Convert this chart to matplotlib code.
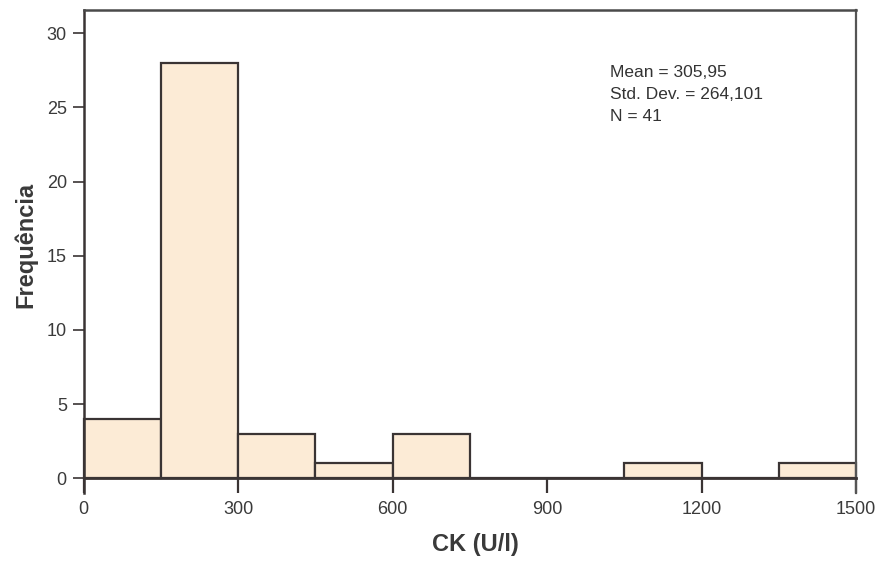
import matplotlib
matplotlib.use("Agg")
import matplotlib.pyplot as plt
import numpy as np

bin_edges = [0, 150, 300, 450, 600, 750, 900, 1050, 1200, 1350, 1500]
counts = [4, 28, 3, 1, 3, 0, 0, 1, 0, 1]
x_ticks = [0, 300, 600, 900, 1200, 1500]
y_ticks = [0, 5, 10, 15, 20, 25, 30]
stats_text = "Mean = 305,95\nStd. Dev. = 264,101\nN = 41"

plt.rcParams['font.family'] = ['Liberation Sans', 'DejaVu Sans']

fig = plt.figure(figsize=(8.82, 5.65), dpi=100)
W, H = 882, 565
left, right, top, bottom = 83.5, 856, 10, 478.3
ax = fig.add_axes([left / W, 1 - bottom / H, (right - left) / W, (bottom - top) / H])

edges = np.array(bin_edges)
ax.bar(edges[:-1], counts, width=np.diff(edges), align='edge',
       color='#FCEBD6', edgecolor='#3a3434', linewidth=1.6, clip_on=False)
ax.axhline(0, color='#3a3434', linewidth=2.0, zorder=3, clip_on=False)

ax.set_xlim(0, 1500)
ymax = (bottom - top) / ((bottom - 33.3) / 30)
ax.set_ylim(0, ymax)
ax.set_xticks(x_ticks)
ax.set_yticks(y_ticks)
ax.set_xticklabels([str(t) for t in x_ticks], fontsize=13, color='#3a3a3a')
ax.set_yticklabels([str(t) for t in y_ticks], fontsize=13, color='#3a3a3a')
ax.tick_params(axis='x', direction='out', length=11, width=1.6, color='#3a3434', pad=5)
ax.tick_params(axis='y', direction='out', length=8, width=1.2, color='#3a3434', pad=4)

ax.spines['bottom'].set_visible(False)
ax.spines['left'].set_visible(False)
ax.spines['right'].set_visible(False)
ext = -15.0 / (bottom - top)
ax.axvline(0, ymin=ext, ymax=1, color='#3a3434', linewidth=1.8, clip_on=False)
ax.axvline(1500, ymin=ext, ymax=1, color='#555555', linewidth=1.6, clip_on=False)
ax.spines['top'].set_linewidth(1.8)
ax.spines['top'].set_color('#4a4a4a')

ax.text(0.6816, 0.883, stats_text, transform=ax.transAxes, fontsize=12.5,
        va='top', ha='left', color='#333333', linespacing=1.6)

fig.text(475 / W, 1 - 544 / H, "CK (U/l)", fontsize=17, fontweight='bold',
         ha='center', va='center', color='#3a3a3a')
fig.text(26 / W, 1 - 245 / H, "Frequência", fontsize=17, fontweight='bold',
         ha='center', va='center', rotation=90, color='#3a3a3a')

fig.savefig("out.png", dpi=100)
